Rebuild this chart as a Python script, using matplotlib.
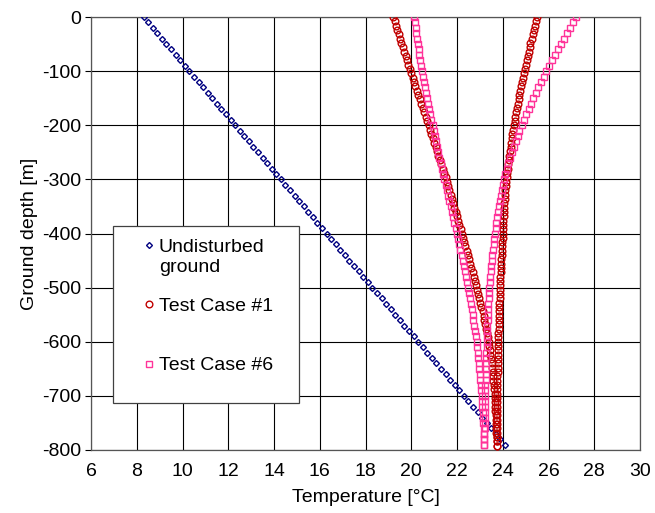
import matplotlib
matplotlib.use("Agg")
import matplotlib.pyplot as plt
from matplotlib.patches import Rectangle
from matplotlib.legend_handler import HandlerLine2D

plt.rcParams['font.family'] = ['Liberation Sans', 'DejaVu Sans']

# ---------------- data ----------------
depth_10 = [0, -10, -20, -30, -40, -50, -60, -70, -80, -90,
            -100, -110, -120, -130, -140, -150, -160, -170, -180, -190,
            -200, -210, -220, -230, -240, -250, -260, -270, -280, -290,
            -300, -310, -320, -330, -340, -350, -360, -370, -380, -390,
            -400, -410, -420, -430, -440, -450, -460, -470, -480, -490,
            -500, -510, -520, -530, -540, -550, -560, -570, -580, -590,
            -600, -610, -620, -630, -640, -650, -660, -670, -680, -690,
            -700, -710, -720, -730, -740, -750, -760, -770, -780, -790]

depth_8 = [0, -8, -16, -24, -32, -40, -48, -56, -64, -72,
           -80, -88, -96, -104, -112, -120, -128, -136, -144, -152,
           -160, -168, -176, -184, -192, -200, -208, -216, -224, -232,
           -240, -248, -256, -264, -272, -280, -288, -296, -304, -312,
           -320, -328, -336, -344, -352, -360, -368, -376, -384, -392,
           -400, -408, -416, -424, -432, -440, -448, -456, -464, -472,
           -480, -488, -496, -504, -512, -520, -528, -536, -544, -552,
           -560, -568, -576, -584, -592, -600, -608, -616, -624, -632,
           -640, -648, -656, -664, -672, -680, -688, -696, -704, -712,
           -720, -728, -736, -744, -752, -760, -768, -776, -784, -792]

undisturbed = [8.30, 8.50, 8.70, 8.90, 9.10, 9.30, 9.50, 9.70, 9.90, 10.10,
               10.30, 10.50, 10.70, 10.90, 11.10, 11.30, 11.50, 11.70, 11.90, 12.10,
               12.30, 12.50, 12.70, 12.90, 13.10, 13.30, 13.50, 13.70, 13.90, 14.10,
               14.30, 14.50, 14.70, 14.90, 15.10, 15.30, 15.50, 15.70, 15.90, 16.10,
               16.30, 16.50, 16.70, 16.90, 17.10, 17.30, 17.50, 17.70, 17.90, 18.10,
               18.30, 18.50, 18.70, 18.90, 19.10, 19.30, 19.50, 19.70, 19.90, 20.10,
               20.30, 20.50, 20.70, 20.90, 21.10, 21.30, 21.50, 21.70, 21.90, 22.10,
               22.30, 22.50, 22.70, 22.90, 23.10, 23.30, 23.50, 23.70, 23.90, 24.10]

tc1_down = [19.22, 19.28, 19.34, 19.39, 19.45, 19.51, 19.57, 19.63, 19.69, 19.75,
            19.81, 19.87, 19.93, 19.99, 20.06, 20.12, 20.18, 20.25, 20.31, 20.38,
            20.44, 20.50, 20.57, 20.63, 20.70, 20.76, 20.82, 20.88, 20.95, 21.01,
            21.07, 21.13, 21.19, 21.26, 21.32, 21.38, 21.44, 21.50, 21.56, 21.61,
            21.67, 21.72, 21.78, 21.84, 21.89, 21.95, 22.00, 22.05, 22.10, 22.16,
            22.21, 22.26, 22.32, 22.37, 22.42, 22.47, 22.53, 22.58, 22.63, 22.68,
            22.73, 22.78, 22.83, 22.88, 22.93, 22.98, 23.02, 23.07, 23.12, 23.16,
            23.20, 23.24, 23.28, 23.32, 23.35, 23.39, 23.41, 23.44, 23.46, 23.49,
            23.52, 23.54, 23.56, 23.57, 23.59, 23.61, 23.62, 23.64, 23.65, 23.66,
            23.67, 23.68, 23.69, 23.70, 23.71, 23.72, 23.72, 23.73, 23.73, 23.74]

tc1_up = [25.50, 25.45, 25.40, 25.36, 25.31, 25.26, 25.21, 25.17, 25.13, 25.09,
          25.05, 25.01, 24.97, 24.93, 24.89, 24.85, 24.81, 24.77, 24.73, 24.69,
          24.66, 24.62, 24.59, 24.55, 24.52, 24.48, 24.45, 24.42, 24.39, 24.36,
          24.34, 24.31, 24.29, 24.26, 24.24, 24.22, 24.19, 24.17, 24.15, 24.13,
          24.12, 24.10, 24.09, 24.07, 24.06, 24.05, 24.04, 24.03, 24.02, 24.01,
          24.00, 23.99, 23.98, 23.97, 23.96, 23.95, 23.94, 23.93, 23.92, 23.91,
          23.90, 23.89, 23.88, 23.87, 23.86, 23.86, 23.85, 23.84, 23.84, 23.83,
          23.83, 23.82, 23.82, 23.81, 23.81, 23.80, 23.80, 23.79, 23.79, 23.79,
          23.78, 23.78, 23.78, 23.77, 23.77, 23.77, 23.76, 23.76, 23.76, 23.76,
          23.75, 23.75, 23.75, 23.75, 23.75, 23.75, 23.75, 23.75, 23.75, 23.75]

tc6_down = [20.14, 20.16, 20.19, 20.22, 20.25, 20.28, 20.32, 20.36, 20.40, 20.44,
            20.48, 20.52, 20.57, 20.61, 20.66, 20.70, 20.75, 20.79, 20.84, 20.88,
            20.93, 20.98, 21.03, 21.08, 21.13, 21.18, 21.23, 21.29, 21.34, 21.40,
            21.45, 21.51, 21.56, 21.62, 21.67, 21.73, 21.78, 21.84, 21.89, 21.95,
            22.00, 22.05, 22.10, 22.15, 22.20, 22.25, 22.30, 22.34, 22.39, 22.43,
            22.48, 22.52, 22.56, 22.60, 22.64, 22.68, 22.72, 22.75, 22.79, 22.82,
            22.86, 22.88, 22.91, 22.93, 22.96, 22.98, 23.00, 23.02, 23.04, 23.06,
            23.08, 23.09, 23.11, 23.12, 23.14, 23.15, 23.16, 23.18, 23.19, 23.20]

tc6_up = [27.22, 27.08, 26.94, 26.80, 26.67, 26.53, 26.40, 26.28, 26.15, 26.03,
          25.90, 25.79, 25.67, 25.56, 25.44, 25.33, 25.23, 25.13, 25.02, 24.92,
          24.82, 24.73, 24.65, 24.56, 24.48, 24.40, 24.32, 24.25, 24.18, 24.11,
          24.05, 24.00, 23.95, 23.91, 23.87, 23.83, 23.79, 23.76, 23.72, 23.69,
          23.66, 23.63, 23.60, 23.57, 23.55, 23.52, 23.50, 23.47, 23.45, 23.43,
          23.41, 23.40, 23.38, 23.37, 23.36, 23.35, 23.34, 23.33, 23.32, 23.31,
          23.30, 23.29, 23.28, 23.28, 23.27, 23.26, 23.25, 23.25, 23.24, 23.24,
          23.23, 23.23, 23.22, 23.22, 23.21, 23.21, 23.21, 23.20, 23.20, 23.20]

series_labels = ["Undisturbed\nground", "Test Case #1\n ", "Test Case #6"]
x_ticks = [6, 8, 10, 12, 14, 16, 18, 20, 22, 24, 26, 28, 30]
y_ticks = [0, -100, -200, -300, -400, -500, -600, -700, -800]

# ---------------- styles ----------------
c_und = "#000080"
c_tc1 = "#C00000"
c_tc6 = "#FF3399"
FS = 14

fig = plt.figure(figsize=(6.55, 5.13), dpi=100)
ax = fig.add_axes([91/655, 1 - 450/513, (640 - 91)/655, (450 - 17)/513])

h_und, = ax.plot(undisturbed, depth_10, linestyle="none", marker="D", ms=3.0,
                 mfc="none", mec=c_und, mew=1.0, zorder=3)
h_tc1, = ax.plot(tc1_down, depth_8, linestyle="none", marker="o", ms=4.8,
                 mfc="none", mec=c_tc1, mew=1.0, zorder=3)
ax.plot(tc1_up, depth_8, linestyle="none", marker="o", ms=4.8,
        mfc="none", mec=c_tc1, mew=1.0, zorder=3)
h_tc6, = ax.plot(tc6_down, depth_10, linestyle="none", marker="s", ms=4.5,
                 mfc="none", mec=c_tc6, mew=1.0, zorder=3)
ax.plot(tc6_up, depth_10, linestyle="none", marker="s", ms=4.5,
        mfc="none", mec=c_tc6, mew=1.0, zorder=3)

ax.set_xlim(6, 30)
ax.set_ylim(-800, 0)
ax.set_xticks(x_ticks)
ax.set_yticks(y_ticks)
ax.set_xticklabels([str(v) for v in x_ticks])
ax.set_yticklabels([str(v) for v in y_ticks])
ax.grid(True, color="black", linewidth=0.8)
ax.set_axisbelow(True)
for s in ax.spines.values():
    s.set_color("#555555")
    s.set_linewidth(0.9)
ax.tick_params(axis="x", length=0, pad=9, labelsize=FS)
ax.tick_params(axis="y", length=4, width=0.8, pad=3, labelsize=FS, color="black")
ax.set_xlabel("Temperature [°C]", fontsize=FS, labelpad=7)
ax.set_ylabel("Ground depth [m]", fontsize=FS, labelpad=3)

# legend frame
frame = Rectangle((0.040, 0.109), 0.339, 0.408, transform=ax.transAxes,
                  facecolor="white", edgecolor="#404040", linewidth=0.9, zorder=4)
ax.add_patch(frame)


class ShiftHandler(HandlerLine2D):
    def __init__(self, shift=0.0, **kw):
        super().__init__(**kw)
        self.shift = shift

    def create_artists(self, legend, orig_handle, xdescent, ydescent,
                       width, height, fontsize, trans):
        return super().create_artists(legend, orig_handle, xdescent,
                                      ydescent - 2 * self.shift * fontsize,
                                      width, height, fontsize, trans)


leg = ax.legend([h_und, h_tc1, h_tc6], series_labels, loc="upper left",
                bbox_to_anchor=(0.0932, 0.4875), frameon=False, fontsize=FS,
                borderpad=0, borderaxespad=0, handlelength=0.7,
                handletextpad=0.16, labelspacing=1.15, numpoints=1,
                handler_map={h_und: ShiftHandler(0.6, numpoints=1),
                             h_tc1: ShiftHandler(0.6, numpoints=1)})
leg.set_zorder(5)

fig.savefig("out.png", dpi=100)
